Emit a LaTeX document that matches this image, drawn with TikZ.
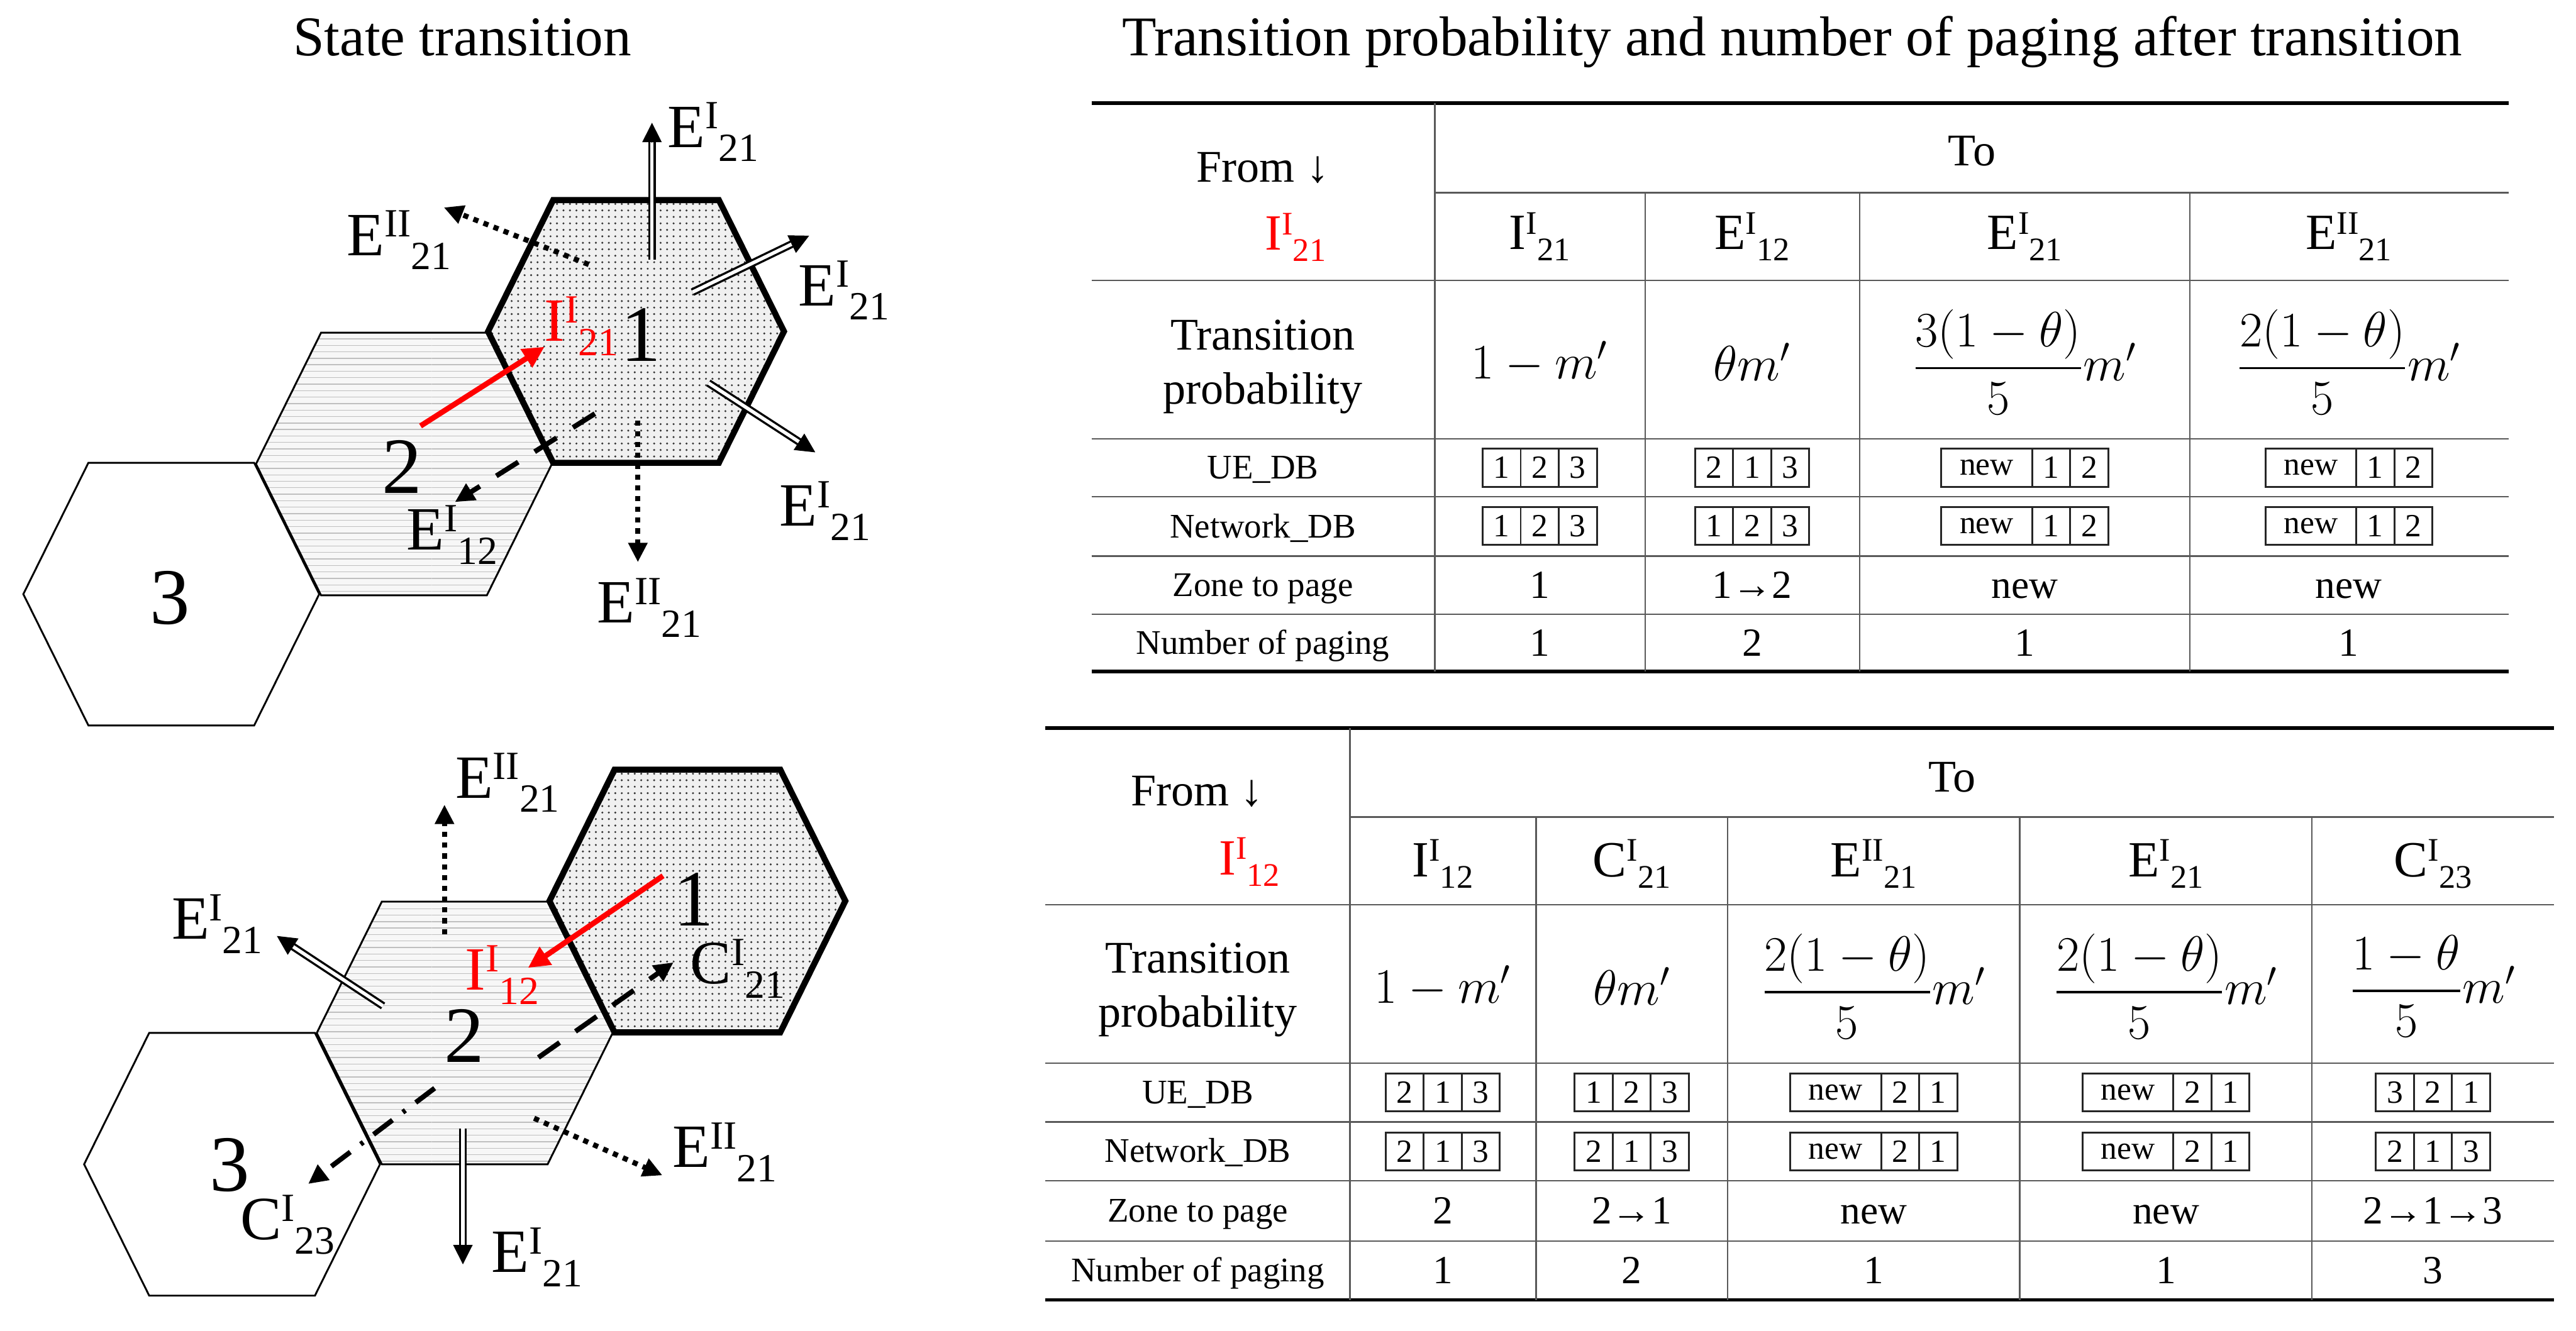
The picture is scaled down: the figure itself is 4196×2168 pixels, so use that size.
\RequirePackage{fix-cm}
\documentclass[tikz,border=0pt]{standalone}
\usepackage{fontspec}
\setmainfont{Liberation Serif}
\usepackage{amsmath}
\usepackage{graphicx}
\usetikzlibrary{patterns,arrows.meta,calc}
\newcommand\esub[3]{#1\raisebox{0.3em}{\scalebox{0.65}{#2}}\raisebox{-0.23em}{\scalebox{0.65}{#3}}}
\newcommand\hexdo[3]{\path[#3] (#1-241,#2) -- (#1-135,#2-214) -- (#1+135,#2-214) -- (#1+241,#2) -- (#1+135,#2+214) -- (#1-135,#2+214) -- cycle;}
% double-line arrow between two named coordinates
\newcommand\dblarrow[2]{\draw[dbl] (#1) -- (#2); \draw[line width=0.3pt,-{Triangle[length=9pt,width=9pt]}] ($(#2)!9pt!(#1)$) -- (#2);}
% three-cell boxes: name, x, y, a, b, c
\newcommand\dbtri[6]{%
  \node[cellbox] (#1a) at (#2-62,#3) {#4};
  \node[cellbox] (#1b) at (#2,#3) {#5};
  \node[cellbox] (#1c) at (#2+62,#3) {#6};}
\newcommand\dbnew[5]{%
  \node[cellbox, minimum width=1.48cm] (#1a) at (#2-62,#3) {new};
  \node[cellbox] (#1b) at (#2+43,#3) {#4};
  \node[cellbox] (#1c) at (#2+105,#3) {#5};}
\tikzset{
  x=0.01cm, y=-0.01cm,
  hexthin/.style={draw=black, line width=0.85pt, line join=miter},
  hexthick/.style={draw=black, line width=2.8pt, line join=miter},
  lbl/.style={anchor=base west, inner sep=0pt, font=\fontsize{28.5}{30}\selectfont},
  num/.style={anchor=base, inner sep=0pt, font=\fontsize{37}{40}\selectfont},
  dotarrow/.style={line width=2.4pt, dash pattern=on 2.4pt off 2.6pt, -{Triangle[length=9pt,width=8.5pt]}},
  dasharrow/.style={line width=2.3pt, dash pattern=on 12pt off 9pt, -{Triangle[length=9pt,width=8.5pt]}},
  dashdotarrow/.style={line width=2.3pt, dash pattern=on 11pt off 6pt on 1.5pt off 6pt, -{Triangle[length=9pt,width=8.5pt]}},
  redarrow/.style={draw=red, line width=2.5pt, -{Triangle[length=10pt,width=9.5pt]}},
  dbl/.style={double=white, double distance=1.6pt, line width=1pt, shorten >=8.5pt},
  thickrule/.style={line width=1.7pt, black},
  thinrule/.style={line width=0.7pt, black!65},
  cellbox/.style={draw=black!85, line width=0.85pt, minimum width=0.62cm, minimum height=0.62cm, inner sep=0pt, anchor=center, font=\fontsize{15}{15}\selectfont},
  title/.style={inner sep=0pt, font=\fontsize{26}{30}\selectfont},
  pal/.style={inner sep=0pt, font=\fontsize{21}{25}\selectfont},
  hdr/.style={anchor=base, inner sep=0pt, font=\fontsize{23.5}{26}\selectfont},
  mth/.style={anchor=center, inner sep=0pt, font=\fontsize{23}{26}\selectfont},
  rowlab/.style={anchor=base, inner sep=0pt, font=\fontsize{16}{18}\selectfont},
  val/.style={anchor=base, inner sep=0pt, font=\fontsize{18.5}{20}\selectfont},
}
\begin{document}
\begin{tikzpicture}
\fill[white] (0,0) rectangle (4196,2168);
\useasboundingbox (0,0) rectangle (4196,2168);

% ---------- titles ----------
\node[title, anchor=base] (t1) at (753,91) {State transition};
\node[title, anchor=base west] (t2) at (1827,91) {Transition probability and number of paging after transition};

% ---------- top figure: hexagons ----------
\hexdo{279}{968}{fill=white}
\hexdo{279}{968}{hexthin}
\hexdo{658}{756}{fill=black!3}
\hexdo{658}{756}{pattern=horizontal lines, pattern color=black!25}
\hexdo{658}{756}{hexthin}
\hexdo{1036}{540}{fill=black!6}
\hexdo{1036}{540}{pattern=dots, pattern color=black!80}
\hexdo{1036}{540}{hexthick}

\node[num] (h1) at (1044,589) {1};
\node[num] (h2) at (655,804) {2};
\node[num] (h3) at (277,1017) {3};

\coordinate (t1a) at (1062,423); \coordinate (t1b) at (1062,200);
\coordinate (t2a) at (959,431);  \coordinate (t2b) at (723,338);
\coordinate (t3a) at (1128,476); \coordinate (t3b) at (1318,384);
\coordinate (t4a) at (1154,624); \coordinate (t4b) at (1328,737);
\coordinate (t5a) at (1039,685); \coordinate (t5b) at (1039,916);
\coordinate (t6a) at (969,674);  \coordinate (t6b) at (741,818);
\coordinate (t7a) at (685,694);  \coordinate (t7b) at (887,565);

\dblarrow{t1a}{t1b}
\dblarrow{t3a}{t3b}
\dblarrow{t4a}{t4b}
\draw[dotarrow] (t2a) -- (t2b);
\draw[dotarrow] (t5a) -- (t5b);
\draw[dasharrow] (t6a) -- (t6b);
\draw[redarrow] (t7a) -- (t7b);

\node[lbl] (l1) at (1087,240) {\esub{E}{I}{21}};
\node[lbl] (l2) at (564,416) {\esub{E}{II}{21}};
\node[lbl] (l3) at (1300,498) {\esub{E}{I}{21}};
\node[lbl] (l4) at (1269,857) {\esub{E}{I}{21}};
\node[lbl] (l5) at (972,1015) {\esub{E}{II}{21}};
\node[lbl] (l6) at (662,896) {\esub{E}{I}{12}};
\node[lbl, text=red] (l7) at (886,556) {\esub{I}{I}{21}};

% ---------- bottom figure: hexagons ----------
\hexdo{378}{1897}{fill=white}
\hexdo{378}{1897}{hexthin}
\hexdo{757}{1683}{fill=black!3}
\hexdo{757}{1683}{pattern=horizontal lines, pattern color=black!25}
\hexdo{757}{1683}{hexthin}
\hexdo{1136}{1468}{fill=black!6}
\hexdo{1136}{1468}{pattern=dots, pattern color=black!80}
\hexdo{1136}{1468}{hexthick}

\node[num] (k1) at (1130,1508) {1};
\node[num] (k2) at (756,1731) {2};
\node[num] (k3) at (374,1941) {3};

\coordinate (b1a) at (724,1522);  \coordinate (b1b) at (724,1311);
\coordinate (b2a) at (624,1639);  \coordinate (b2b) at (451,1525);
\coordinate (b3a) at (1080,1427); \coordinate (b3b) at (860,1577);
\coordinate (b4a) at (877,1723);  \coordinate (b4b) at (1097,1568);
\coordinate (b5a) at (708,1773);  \coordinate (b5b) at (502,1929);
\coordinate (b6a) at (754,1839);  \coordinate (b6b) at (754,2060);
\coordinate (b7a) at (870,1822);  \coordinate (b7b) at (1079,1915);

\draw[dotarrow] (b1a) -- (b1b);
\dblarrow{b2a}{b2b}
\draw[redarrow] (b3a) -- (b3b);
\draw[dasharrow] (b4a) -- (b4b);
\draw[dashdotarrow] (b5a) -- (b5b);
\dblarrow{b6a}{b6b}
\draw[dotarrow] (b7a) -- (b7b);

\node[lbl] (m1) at (741,1300) {\esub{E}{II}{21}};
\node[lbl] (m2) at (279,1530) {\esub{E}{I}{21}};
\node[lbl, text=red] (m3) at (757,1613) {\esub{I}{I}{12}};
\node[lbl] (m4) at (1124,1603) {\esub{C}{I}{21}};
\node[lbl] (m5) at (391,2020) {\esub{C}{I}{23}};
\node[lbl] (m6) at (800,2073) {\esub{E}{I}{21}};
\node[lbl] (m7) at (1095,1902) {\esub{E}{II}{21}};

% ---------- top table ----------
\draw[thickrule] (1778,168) -- (4086,168);
\draw[thinrule] (2337,314) -- (4086,314);
\foreach \yy in {457,715,809,906,1001} \draw[thinrule] (1778,\yy) -- (4086,\yy);
\draw[thickrule] (1778,1094) -- (4086,1094);
\draw[thinrule] (2337,168) -- (2337,1094);
\foreach \xx in {2680,3029,3567} \draw[thinrule] (\xx,314) -- (\xx,1094);

\node[pal, anchor=base] (afrom) at (2057,297) {From ↓};
\node[hdr, anchor=base west, text=red] (afi) at (2060,407) {\esub{I}{I}{21}};
\node[pal, anchor=base] (ato) at (3212,270) {To};
\node[hdr] (ah1) at (2508,406) {\esub{I}{I}{21}};
\node[hdr] (ah2) at (2854,406) {\esub{E}{I}{12}};
\node[hdr] (ah3) at (3298,406) {\esub{E}{I}{21}};
\node[hdr] (ah4) at (3826,406) {\esub{E}{II}{21}};
\node[pal, align=center, anchor=center] (atp) at (2057,598) {Transition\\probability};
\node[mth] (ap1) at (2508,590) {$1-m'$};
\node[mth] (ap2) at (2854,590) {$\theta m'$};
\node[mth] (ap3) at (3298,590) {$\dfrac{3(1-\theta)}{5}m'$};
\node[mth] (ap4) at (3826,590) {$\dfrac{2(1-\theta)}{5}m'$};
\node[rowlab] (aue) at (2057,780) {UE\_DB};
\node[rowlab] (anet) at (2057,876) {Network\_DB};
\node[rowlab] (azone) at (2057,972) {Zone to page};
\node[rowlab] (anum) at (2057,1066) {Number of paging};
\dbtri{aue1}{2508}{762}{1}{2}{3}
\dbtri{aue2}{2854}{762}{2}{1}{3}
\dbnew{aue3}{3298}{762}{1}{2}
\dbnew{aue4}{3826}{762}{1}{2}
\dbtri{anet1}{2508}{857}{1}{2}{3}
\dbtri{anet2}{2854}{857}{1}{2}{3}
\dbnew{anet3}{3298}{857}{1}{2}
\dbnew{anet4}{3826}{857}{1}{2}
\node[val] (az1) at (2508,975) {1};
\node[val] (az2) at (2854,975) {1→2};
\node[val] (az3) at (3298,975) {new};
\node[val] (az4) at (3826,975) {new};
\node[val] (an1) at (2508,1069) {1};
\node[val] (an2) at (2854,1069) {2};
\node[val] (an3) at (3298,1069) {1};
\node[val] (an4) at (3826,1069) {1};

% ---------- bottom table ----------
\draw[thickrule] (1703,1186) -- (4160,1186);
\draw[thinrule] (2199,1331) -- (4160,1331);
\foreach \yy in {1474,1732,1828,1924,2022} \draw[thinrule] (1703,\yy) -- (4160,\yy);
\draw[thickrule] (1703,2118) -- (4160,2118);
\draw[thinrule] (2199,1186) -- (2199,2118);
\foreach \xx in {2502,2814,3290,3766} \draw[thinrule] (\xx,1331) -- (\xx,2118);

\node[pal, anchor=base] (bfrom) at (1950,1313) {From ↓};
\node[hdr, anchor=base west, text=red] (bfi) at (1985,1425) {\esub{I}{I}{12}};
\node[pal, anchor=base] (bto) at (3180,1290) {To};
\node[hdr] (bh1) at (2350,1428) {\esub{I}{I}{12}};
\node[hdr] (bh2) at (2658,1428) {\esub{C}{I}{21}};
\node[hdr] (bh3) at (3052,1428) {\esub{E}{II}{21}};
\node[hdr] (bh4) at (3528,1428) {\esub{E}{I}{21}};
\node[hdr] (bh5) at (3963,1428) {\esub{C}{I}{23}};
\node[pal, align=center, anchor=center] (btp) at (1951,1613) {Transition\\probability};
\node[mth] (bp1) at (2350,1607) {$1-m'$};
\node[mth] (bp2) at (2658,1607) {$\theta m'$};
\node[mth] (bp3) at (3052,1607) {$\dfrac{2(1-\theta)}{5}m'$};
\node[mth] (bp4) at (3528,1607) {$\dfrac{2(1-\theta)}{5}m'$};
\node[mth] (bp5) at (3963,1607) {$\dfrac{1-\theta}{5}m'$};
\node[rowlab] (bue) at (1951,1798) {UE\_DB};
\node[rowlab] (bnet) at (1951,1894) {Network\_DB};
\node[rowlab] (bzone) at (1951,1991) {Zone to page};
\node[rowlab] (bnum) at (1951,2088) {Number of paging};
\dbtri{bue1}{2350}{1780}{2}{1}{3}
\dbtri{bue2}{2658}{1780}{1}{2}{3}
\dbnew{bue3}{3052}{1780}{2}{1}
\dbnew{bue4}{3528}{1780}{2}{1}
\dbtri{bue5}{3963}{1780}{3}{2}{1}
\dbtri{bnet1}{2350}{1876}{2}{1}{3}
\dbtri{bnet2}{2658}{1876}{2}{1}{3}
\dbnew{bnet3}{3052}{1876}{2}{1}
\dbnew{bnet4}{3528}{1876}{2}{1}
\dbtri{bnet5}{3963}{1876}{2}{1}{3}
\node[val] (bz1) at (2350,1994) {2};
\node[val] (bz2) at (2658,1994) {2→1};
\node[val] (bz3) at (3052,1994) {new};
\node[val] (bz4) at (3528,1994) {new};
\node[val] (bz5) at (3963,1994) {2→1→3};
\node[val] (bn1) at (2350,2091) {1};
\node[val] (bn2) at (2658,2091) {2};
\node[val] (bn3) at (3052,2091) {1};
\node[val] (bn4) at (3528,2091) {1};
\node[val] (bn5) at (3963,2091) {3};
\end{tikzpicture}
\end{document}
